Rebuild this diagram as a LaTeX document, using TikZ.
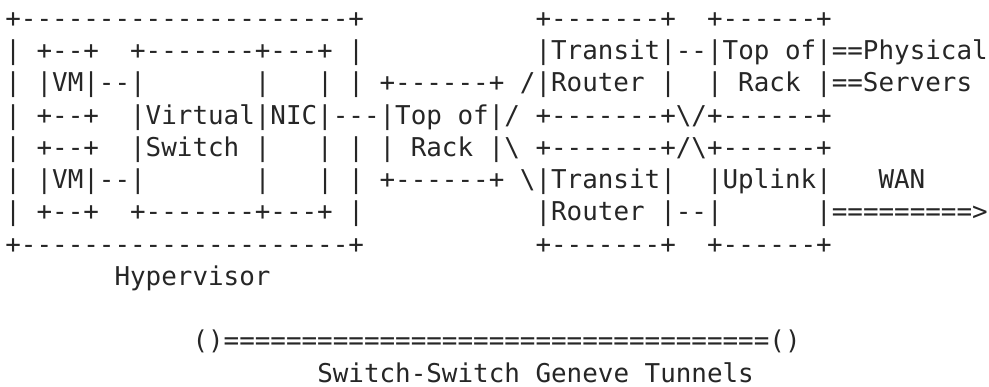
\documentclass[tikz,border=0pt]{standalone}
\usepackage{fontspec}
\newfontfamily\asciifont{DejaVu Sans Mono}

\begin{document}
\begin{tikzpicture}[x=1pt,y=1pt]
\tikzset{row/.style={anchor=base west, inner sep=0pt, text=black!85,
  font=\asciifont\fontsize{25.9}{32}\selectfont}}
\useasboundingbox (0,0) rectangle (989,387);
% hypervisor, top of rack, transit routers
\node[row] (r1) at (5.2,359.5) {+---------------------+~~~~~~~~~~~+-------+~~+------+};
\node[row] (r2) at (5.2,327.25) {|~+--+~~+-------+---+~|~~~~~~~~~~~|Transit|--|Top~of|==Physical};
\node[row] (r3) at (5.2,295.0) {|~|VM|--|~~~~~~~|~~~|~|~+------+~/|Router~|~~|~Rack~|==Servers};
\node[row] (r4) at (5.2,262.75) {|~+--+~~|Virtual|NIC|---|Top~of|/~+-------+\textbackslash/+------+};
\node[row] (r5) at (5.2,230.5) {|~+--+~~|Switch~|~~~|~|~|~Rack~|\textbackslash~+-------+/\textbackslash+------+};
\node[row] (r6) at (5.2,198.25) {|~|VM|--|~~~~~~~|~~~|~|~+------+~\textbackslash|Transit|~~|Uplink|~~~WAN};
\node[row] (r7) at (5.2,166.0) {|~+--+~~+-------+---+~|~~~~~~~~~~~|Router~|--|~~~~~~|=========>};
\node[row] (r8) at (5.2,133.75) {+---------------------+~~~~~~~~~~~+-------+~~+------+};
\node[row] (r9) at (5.2,101.5) {~~~~~~~Hypervisor};
% tunnels
\node[row] (r11) at (5.2,37.0) {~~~~~~~~~~~~()===================================()};
\node[row] (r12) at (5.2,4.75) {~~~~~~~~~~~~~~~~~~~~Switch-Switch~Geneve~Tunnels};
\end{tikzpicture}
\end{document}
